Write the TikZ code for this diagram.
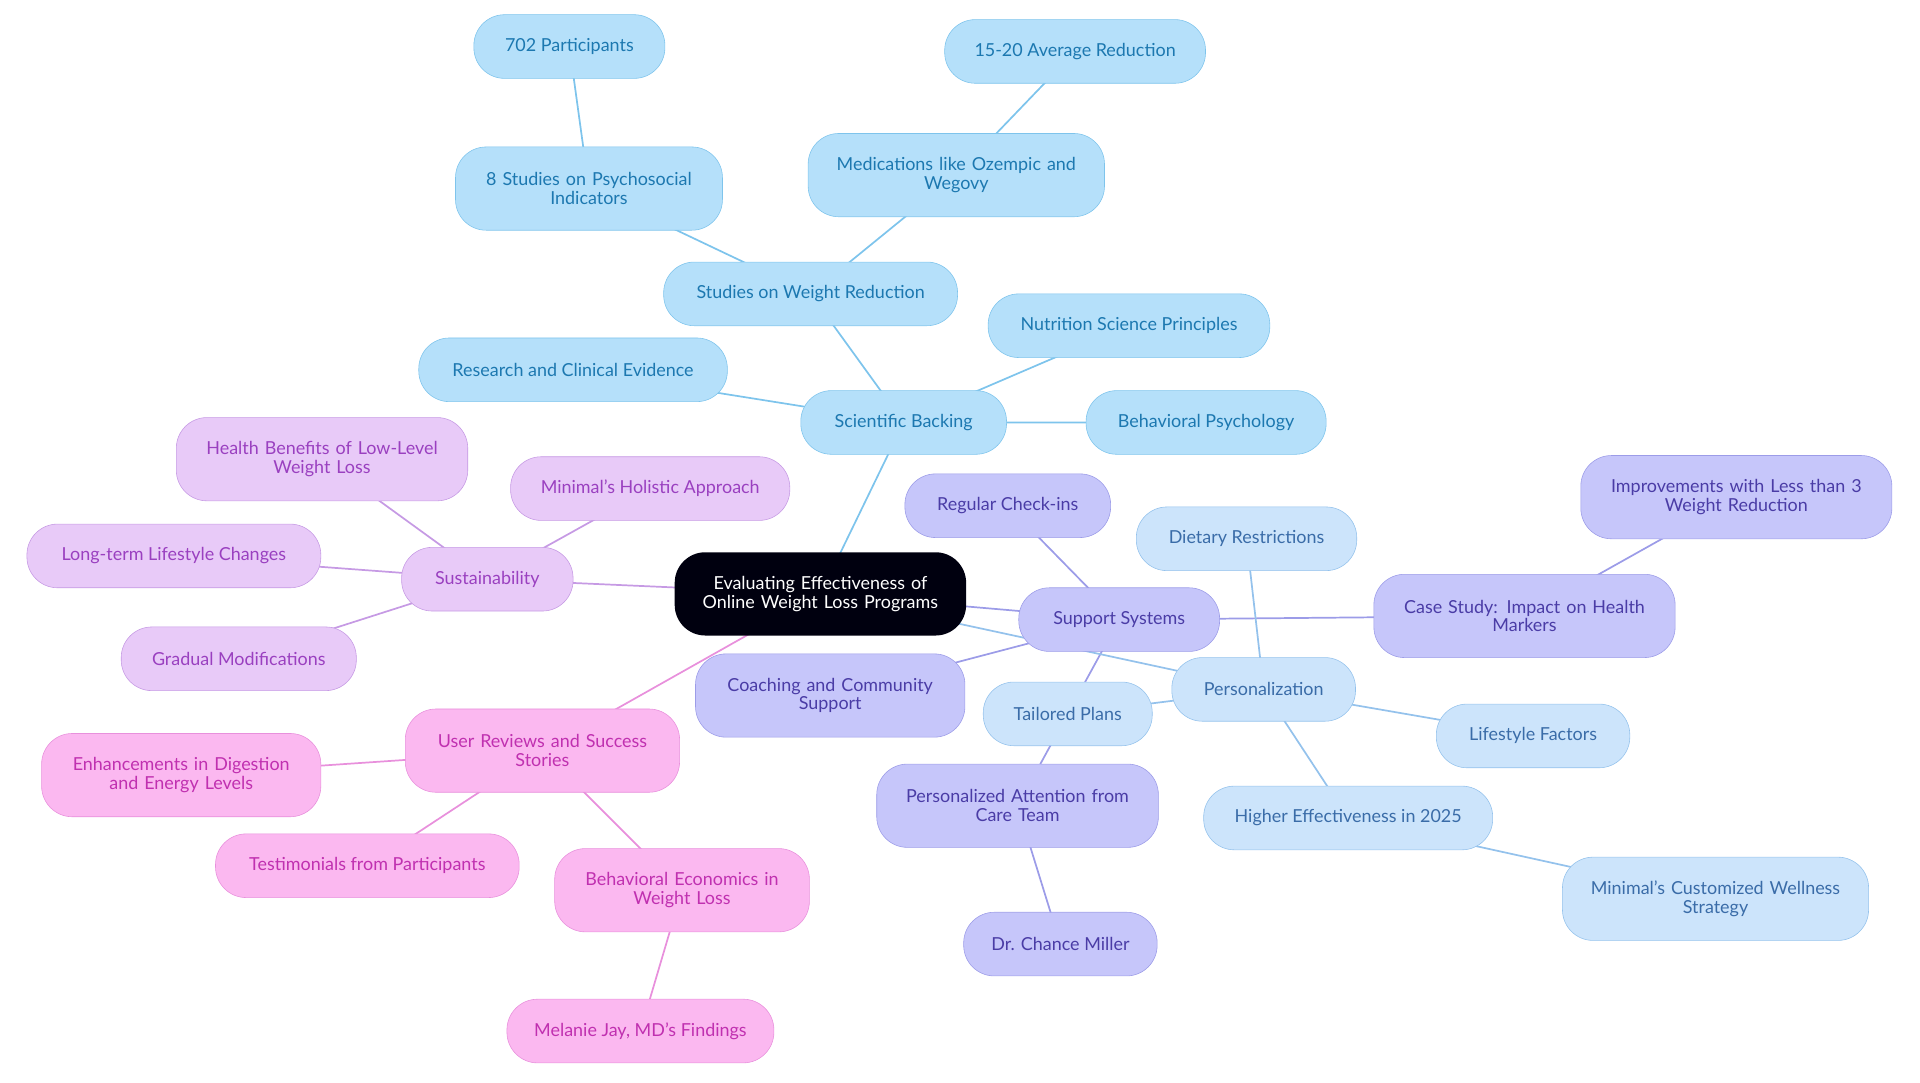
\documentclass[tikz,border=0pt]{standalone}
\usepackage{fontspec}
\setmainfont{Lato}
\usetikzlibrary{backgrounds}
\definecolor{sciFill}{HTML}{B5E0FA}\definecolor{sciLine}{HTML}{7EC4EC}\definecolor{sciText}{HTML}{1C78B0}
\definecolor{perFill}{HTML}{CCE4FB}\definecolor{perLine}{HTML}{94C2EC}\definecolor{perText}{HTML}{3A6CA8}
\definecolor{supFill}{HTML}{C6C6FA}\definecolor{supLine}{HTML}{9C9CE8}\definecolor{supText}{HTML}{4A3CA6}
\definecolor{susFill}{HTML}{E8CAF8}\definecolor{susLine}{HTML}{C69AE4}\definecolor{susText}{HTML}{9A40C0}
\definecolor{revFill}{HTML}{FBB8F0}\definecolor{revLine}{HTML}{E890DC}\definecolor{revText}{HTML}{C030B0}
\tikzset{
  box/.style={rounded corners=0.75cm, minimum height=1.56cm, align=center, inner sep=2pt,
    font=\fontsize{12.5}{13}\selectfont},
  sci/.style={box, fill=sciFill, draw=sciLine, text=sciText},
  per/.style={box, fill=perFill, draw=perLine, text=perText},
  sup/.style={box, fill=supFill, draw=supLine, text=supText},
  sus/.style={box, fill=susFill, draw=susLine, text=susText},
  rev/.style={box, fill=revFill, draw=revLine, text=revText},
  two/.style={minimum height=2.04cm},
  link/.style={line width=1.2pt}
}
\begin{document}
\begin{tikzpicture}[x=0.03cm, y=-0.03cm]
	\useasboundingbox (0,0) rectangle (1568,884);
	%root
	\node[box, fill=black!90!blue!60!black, text=white, minimum width=7.14cm, two, text width=6cm] (root) at (670,485) {Evaluating Effectiveness of\\Online Weight Loss Programs};
	%scientific backing
	\node[sci, minimum width=5.04cm] (sb) at (738,345) {Scientific Backing};
	\node[sci, minimum width=7.2cm] (studies) at (662,240) {Studies on Weight Reduction};
	\node[sci, two, minimum width=6.54cm, text width=5.6cm] (psy) at (481,154) {8 Studies on Psychosocial\\Indicators};
	\node[sci, minimum width=4.68cm] (part) at (465,38) {702 Participants};
	\node[sci, two, minimum width=7.26cm, text width=6.2cm] (meds) at (781,143) {Medications like Ozempic and\\Wegovy};
	\node[sci, minimum width=6.39cm] (avg) at (878,42) {15-20 Average Reduction};
	\node[sci, minimum width=7.56cm] (research) at (468,302) {Research and Clinical Evidence};
	\node[sci, minimum width=6.9cm] (nutri) at (922,266) {Nutrition Science Principles};
	\node[sci, minimum width=5.88cm] (psych) at (985,345) {Behavioral Psychology};
	%sustainability
	\node[sus, minimum width=4.2cm] (sust) at (398,473) {Sustainability};
	\node[sus, two, minimum width=7.14cm, text width=6.2cm] (health) at (263,375) {Health Benefits of Low-Level\\Weight Loss};
	\node[sus, minimum width=6.84cm] (holistic) at (531,399) {Minimal's Holistic Approach};
	\node[sus, minimum width=7.2cm] (longterm) at (142,454) {Long-term Lifestyle Changes};
	\node[sus, minimum width=5.76cm] (gradual) at (195,538) {Gradual Modifications};
	%user reviews
	\node[rev, two, minimum width=6.72cm, text width=5.8cm] (reviews) at (443,613) {User Reviews and Success\\Stories};
	\node[rev, two, minimum width=6.84cm, text width=5.9cm] (digest) at (148,633) {Enhancements in Digestion\\and Energy Levels};
	\node[rev, minimum width=7.44cm] (testi) at (300,707) {Testimonials from Participants};
	\node[rev, two, minimum width=6.24cm, text width=5.4cm] (econ) at (557,727) {Behavioral Economics in\\Weight Loss};
	\node[rev, minimum width=6.54cm] (melanie) at (523,842) {Melanie Jay, MD's Findings};
	%support systems
	\node[sup, minimum width=4.92cm] (support) at (914,506) {Support Systems};
	\node[sup, minimum width=5.04cm] (checkins) at (823,413) {Regular Check-ins};
	\node[sup, two, minimum width=6.6cm, text width=5.7cm] (coach) at (678,568) {Coaching and Community\\Support};
	\node[sup, two, minimum width=7.38cm, text width=6.4cm] (case) at (1245,503) {Case Study: Impact on Health\\Markers};
	\node[sup, two, minimum width=7.62cm, text width=6.7cm] (improve) at (1418,406) {Improvements with Less than 3\\Weight Reduction};
	\node[sup, two, minimum width=6.9cm, text width=6cm] (care) at (831,658) {Personalized Attention from\\Care Team};
	\node[sup, minimum width=4.74cm] (miller) at (866,771) {Dr. Chance Miller};
	%personalization
	\node[per, minimum width=4.5cm] (pers) at (1032,563) {Personalization};
	\node[per, minimum width=5.4cm] (diet) at (1018,440) {Dietary Restrictions};
	\node[per, minimum width=4.14cm] (tailored) at (872,583) {Tailored Plans};
	\node[per, minimum width=4.74cm] (lifestyle) at (1252,601) {Lifestyle Factors};
	\node[per, minimum width=7.08cm] (higher) at (1101,668) {Higher Effectiveness in 2025};
	\node[per, two, minimum width=7.5cm, text width=6.5cm] (custom) at (1401,734) {Minimal's Customized Wellness\\Strategy};
	%links
	\begin{scope}[on background layer]
		\draw[link, sciLine] (root.center) -- (sb.center) (sb.center) -- (studies.center) (studies.center) -- (psy.center)
			(psy.center) -- (part.center) (studies.center) -- (meds.center) (meds.center) -- (avg.center)
			(sb.center) -- (research.center) (sb.center) -- (nutri.center) (sb.center) -- (psych.center);
		\draw[link, susLine] (root.center) -- (sust.center) (sust.center) -- (health.center) (sust.center) -- (holistic.center)
			(sust.center) -- (longterm.center) (sust.center) -- (gradual.center);
		\draw[link, revLine] (root.center) -- (reviews.center) (reviews.center) -- (digest.center) (reviews.center) -- (testi.center)
			(reviews.center) -- (econ.center) (econ.center) -- (melanie.center);
		\draw[link, supLine] (root.center) -- (support.center) (support.center) -- (checkins.center) (support.center) -- (coach.center)
			(support.center) -- (case.center) (case.center) -- (improve.center) (support.center) -- (care.center) (care.center) -- (miller.center);
		\draw[link, perLine] (root.center) -- (pers.center) (pers.center) -- (diet.center) (pers.center) -- (tailored.center)
			(pers.center) -- (lifestyle.center) (pers.center) -- (higher.center) (higher.center) -- (custom.center);
	\end{scope}
\end{tikzpicture}
\end{document}
